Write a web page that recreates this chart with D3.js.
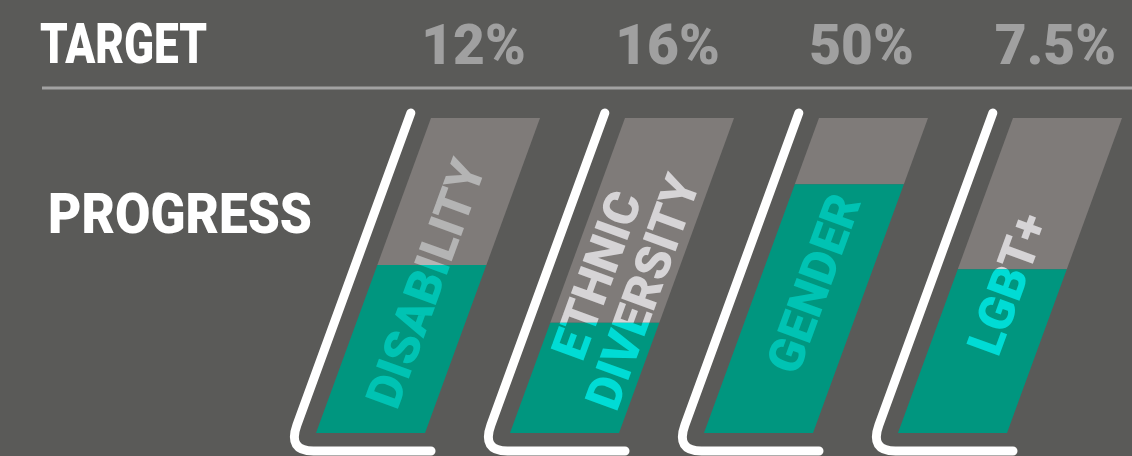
<!DOCTYPE html>
<html>
<head>
<meta charset="utf-8">
<script src="https://cdn.jsdelivr.net/npm/d3@7"></script>
<style>
  html, body { margin: 0; padding: 0; background: #5a5a58; }
  svg { display: block; font-family: Roboto, "Open Sans", sans-serif; }
</style>
</head>
<body>
<svg id="chart" width="1132" height="456"></svg>
<script>
// chart values
const categories = ["DISABILITY", "ETHNIC DIVERSITY", "GENDER", "LGBT+"];
const labelLines = [["DISABILITY"], ["ETHNIC", "DIVERSITY"], ["GENDER"], ["LGBT+"]];
const targets = [12, 16, 50, 7.5];
const targetLabels = ["12%", "16%", "50%", "7.5%"];
const progress = [6.4, 5.6, 39.5, 3.9];

const data = categories.map((c, i) => ({
  id: i,
  category: c,
  lines: labelLines[i],
  target: targets[i],
  targetLabel: targetLabels[i],
  progress: progress[i],
  share: progress[i] / targets[i]
}));

const W = 1132, H = 456;
const BAR_TOP = 118, BAR_BOTTOM = 433;
const SLOPE = 115 / 315;            // horizontal lean per pixel of height
const ANGLE = -Math.atan2(315, 115) * 180 / Math.PI;

const COLORS = {
  bg: "#5a5a58",
  barGray: "#7f7b79",
  teal: "#00967f",
  rule: "#a2a2a2",
  pct: "#a0a0a0",
  textTeal: ["#00c3b3", "#00dcd5"],
  textGray: ["#b4b4b4", "#d6d4d6"]
};

const svg = d3.select("#chart");
svg.append("rect").attr("width", W).attr("height", H).attr("fill", COLORS.bg);

const X_SCALE = d3.scaleBand()
  .domain(categories)
  .range([431, 1122])
  .paddingInner(0.438)
  .paddingOuter(0);

const Y_SCALE = d3.scaleLinear().domain([0, 1]).range([BAR_BOTTOM, BAR_TOP]);

// shift x to follow the lean of the bars
const lean = (x, y) => x - SLOPE * (y - BAR_TOP);

function segment(d, from, to) {
  const x0 = X_SCALE(d.category), x1 = x0 + X_SCALE.bandwidth();
  const yA = Y_SCALE(from), yB = Y_SCALE(to);
  return [[lean(x0, yB), yB], [lean(x1, yB), yB], [lean(x1, yA), yA], [lean(x0, yA), yA]]
    .map(p => p.join(",")).join(" ");
}

// header texts
svg.append("text")
  .text("TARGET")
  .attr("x", 40).attr("y", 63)
  .attr("font-size", 56).attr("font-weight", 900)
  .attr("fill", "#ffffff")
  .attr("textLength", 167).attr("lengthAdjust", "spacingAndGlyphs");

svg.append("line")
  .attr("x1", 42).attr("x2", W)
  .attr("y1", 88).attr("y2", 88)
  .attr("stroke", COLORS.rule).attr("stroke-width", 3);

svg.append("text")
  .text("PROGRESS")
  .attr("x", 48).attr("y", 233)
  .attr("font-size", 56).attr("font-weight", 900)
  .attr("fill", "#ffffff")
  .attr("textLength", 264).attr("lengthAdjust", "spacingAndGlyphs");

svg.selectAll(".pct")
  .data(data)
  .enter()
  .append("text")
  .classed("pct", true)
  .text(d => d.targetLabel)
  .attr("x", d => X_SCALE(d.category) + X_SCALE.bandwidth() / 2 - 12)
  .attr("y", 64)
  .attr("text-anchor", "middle")
  .attr("font-size", 55).attr("font-weight", 900)
  .attr("fill", COLORS.pct);

// white brackets to the left of each bar
const LINE_TOP = 113, LINE_BASE = 451, R = 26;
svg.selectAll(".bracket")
  .data(data)
  .enter()
  .append("path")
  .classed("bracket", true)
  .attr("d", d => {
    const xt = X_SCALE(d.category) - 22 + SLOPE * (BAR_TOP - LINE_TOP);
    const cx = xt - SLOPE * (LINE_BASE - LINE_TOP);
    const p = d3.path();
    p.moveTo(xt, LINE_TOP);
    p.lineTo(cx + SLOPE * R, LINE_BASE - R);
    p.quadraticCurveTo(cx, LINE_BASE, cx + R, LINE_BASE);
    p.lineTo(lean(X_SCALE(d.category) + X_SCALE.bandwidth(), BAR_BOTTOM) + 6, LINE_BASE);
    return p.toString();
  })
  .attr("fill", "none")
  .attr("stroke", "#ffffff")
  .attr("stroke-width", 9)
  .attr("stroke-linecap", "round")
  .attr("stroke-linejoin", "round");

// bars: grey for remaining target, teal for progress
const defs = svg.append("defs");
data.forEach(d => {
  defs.append("clipPath").attr("id", `clip-gray-${d.id}`)
    .append("polygon").attr("points", segment(d, d.share, 1));
  defs.append("clipPath").attr("id", `clip-teal-${d.id}`)
    .append("polygon").attr("points", segment(d, 0, d.share));
});

svg.selectAll(".bar-target")
  .data(data)
  .enter()
  .append("polygon")
  .classed("bar-target", true)
  .attr("points", d => segment(d, d.share, 1))
  .attr("fill", COLORS.barGray);

svg.selectAll(".bar-progress")
  .data(data)
  .enter()
  .append("polygon")
  .classed("bar-progress", true)
  .attr("points", d => segment(d, 0, d.share))
  .attr("fill", COLORS.teal);

// rotated labels, drawn twice so each part takes the colour of its segment
const FS = 49, LINE_H = 49, LABEL_AT = 0.475;
function drawLabel(d, part) {
  const cy = Y_SCALE(LABEL_AT);
  const cx = lean(X_SCALE(d.category) + X_SCALE.bandwidth() / 2, cy);
  const g = svg.append("g")
    .attr("clip-path", `url(#clip-${part}-${d.id})`)
    .append("g")
    .attr("transform", `translate(${cx},${cy}) rotate(${ANGLE})`);
  const fill = part === "teal" ? COLORS.textTeal[d.id % 2] : COLORS.textGray[d.id % 2];
  const n = d.lines.length;
  g.selectAll("text")
    .data(d.lines)
    .enter()
    .append("text")
    .text(t => t)
    .attr("x", 0)
    .attr("y", (t, k) => (k - (n - 1) / 2) * LINE_H + FS * 0.355)
    .attr("text-anchor", "middle")
    .attr("font-size", FS).attr("font-weight", 900)
    .attr("fill", fill);
}
data.forEach(d => { drawLabel(d, "gray"); drawLabel(d, "teal"); });
</script>
</body>
</html>
